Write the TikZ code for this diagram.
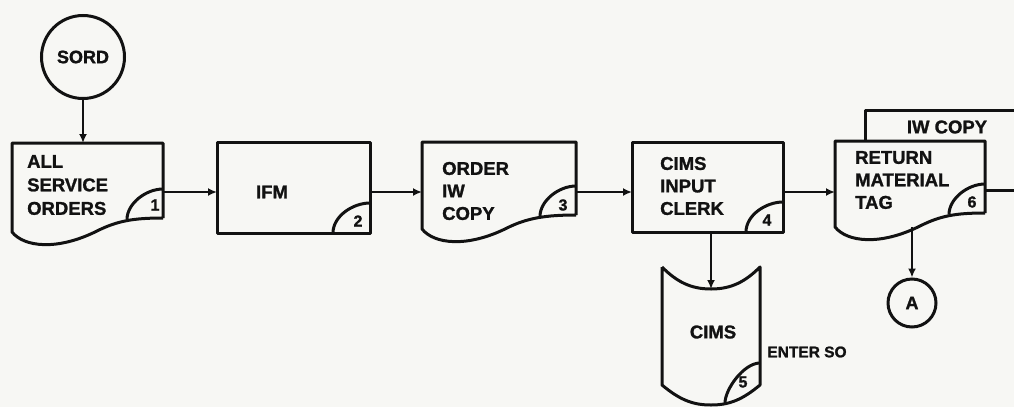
\documentclass[tikz,border=0pt]{standalone}
\usepackage{fontspec}
\setmainfont{Liberation Sans}[BoldFeatures={FakeBold=1.3}]
\usetikzlibrary{calc,arrows.meta}
\definecolor{paper}{RGB}{247,247,244}
\definecolor{ink}{RGB}{18,18,18}
\newcommand\docdraw[1]{%
  \draw[shp] (#1.south east) -- (#1.north east) -- (#1.north west) -- ($(#1.south west)+(0,14)$)
    .. controls ($(#1.south west)+(12,29)$) and ($(#1.south west)+(45,33)$) .. ($(#1.south west)+(85,13)$)
    .. controls ($(#1.south west)+(105,3)$) and ($(#1.south east)+(-30,0)$) .. (#1.south east);
  \draw[shp] ($(#1.south east)+(-36,1.5)$) .. controls +(0,-16) and +(-17,0) .. ($(#1.south east)+(0,-29)$);
}
\newcommand\rectdraw[1]{%
  \draw[shp] (#1.south west) rectangle (#1.north east);
  \draw[shp] ($(#1.south east)+(-37,0)$) .. controls +(0,-17) and +(-17,0) .. ($(#1.south east)+(0,-30)$);
}
\begin{document}
\begin{tikzpicture}[x=1pt,y=-1pt,
  shp/.style={draw=ink,line width=3pt,line join=round},
  arr/.style={draw=ink,line width=2.6pt,-{Latex[length=9pt,width=8pt]}},
  frame/.style={rectangle,draw=none,inner sep=0pt,outer sep=0pt,anchor=north west},
  lbl/.style={font=\bfseries\fontsize{18.5}{23.5}\selectfont,text=ink,align=left,inner sep=0pt},
  num/.style={font=\bfseries\fontsize{16}{18}\selectfont,text=ink,inner sep=0pt},
  term/.style={circle,draw=ink,line width=3pt,inner sep=0pt,font=\bfseries\fontsize{18}{20}\selectfont,text=ink}]
\useasboundingbox (0,0) rectangle (1014,407);
\fill[paper] (0,0) rectangle (1014,407);
\clip (0,0) rectangle (1014,407);

% terminals
\node[term,minimum size=83pt] (sord) at (83,57) {SORD};
\node[term,minimum size=48pt] (a) at (912,303) {A};

% frames of the boxes
\node[frame,minimum width=151pt,minimum height=75pt] (d1) at (12,143) {};
\node[frame,minimum width=153pt,minimum height=91pt] (ifm) at (217,142) {};
\node[frame,minimum width=154pt,minimum height=73pt] (d3) at (422,142) {};
\node[frame,minimum width=151pt,minimum height=90pt] (b4) at (632,142) {};
\node[frame,minimum width=150pt,minimum height=72pt] (d6) at (835,141) {};
\node[frame,minimum width=98pt,minimum height=118pt] (cims) at (662,267) {};

% IW COPY card behind document 6
\coordinate (iwr) at (1020,110);
\draw[shp] ($(d6.north west)+(30,0)$) -- ($(d6.north west)+(30,-31)$) -- (iwr);
\node[lbl] (iw) at (947,127) {IW COPY};

\docdraw{d1}
\rectdraw{ifm}
\docdraw{d3}
\rectdraw{b4}
\docdraw{d6}

% storage symbol
\draw[shp] (cims.north west) -- (cims.south west)
  .. controls ($(cims.south west)+(18,15)$) and ($(cims.south)+(-18,20)$) .. ($(cims.south)+(0,20)$)
  .. controls ($(cims.south)+(18,20)$) and ($(cims.south east)+(-18,15)$) .. (cims.south east)
  -- (cims.north east)
  .. controls ($(cims.north east)+(-15,15)$) and ($(cims.north)+(20,22)$) .. ($(cims.north)+(0,22)$)
  .. controls ($(cims.north)+(-20,22)$) and ($(cims.north west)+(15,15)$) .. (cims.north west);
\draw[shp] ($(cims.south east)+(-35,18)$) .. controls +(0,-14) and +(-16,0) .. ($(cims.south east)+(0,-22)$);

% texts
\node[lbl,anchor=west] (t1) at (27,185) {ALL\\SERVICE\\ORDERS};
\node[lbl] (t2) at (272,192) {IFM};
\node[lbl,anchor=west,font=\bfseries\fontsize{18.5}{22.5}\selectfont] (t3) at (442,191) {ORDER\\IW\\COPY};
\node[lbl,anchor=west,font=\bfseries\fontsize{18.5}{22.5}\selectfont] (t4) at (660,186) {CIMS\\INPUT\\CLERK};
\node[lbl,anchor=west,font=\bfseries\fontsize{18.5}{22.5}\selectfont] (t6) at (855,180) {RETURN\\MATERIAL\\TAG};
\node[lbl] (t5) at (713,332) {CIMS};
\node[lbl,font=\bfseries\fontsize{15.5}{18}\selectfont] (enter) at (807,352) {ENTER SO};

\node[num] (n1) at (155,205) {1};
\node[num] (n2) at (358,221) {2};
\node[num] (n3) at (563,205) {3};
\node[num] (n4) at (767,220) {4};
\node[num] (n5) at (743,382) {5};
\node[num] (n6) at (972,202) {6};

% connectors
\coordinate (row) at (0,192);
\coordinate (out) at (1020,190);
\coordinate (ctop) at ($(cims.north)+(0,22)$);
\draw[arr] (sord) -- (sord |- d1.north);
\draw[arr] (d1.east |- row) -- (ifm.west |- row);
\draw[arr] (ifm.east |- row) -- (d3.west |- row);
\draw[arr] (d3.east |- row) -- (b4.west |- row);
\draw[arr] (b4.east |- row) -- (d6.west |- row);
\draw[shp] (d6.east |- out) -- (out);
\draw[arr] (ctop |- b4.south) -- (ctop);
\draw[arr] ($(d6.south west)+(77,14)$) -- (a);
\end{tikzpicture}
\end{document}
